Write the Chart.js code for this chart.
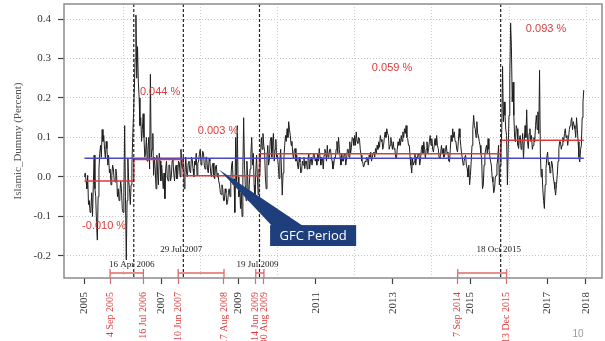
<!DOCTYPE html>
<html>
<head>
<meta charset="utf-8">
<script src="https://cdn.jsdelivr.net/npm/chart.js@4.4.1/dist/chart.umd.min.js"></script>
<style>
  html, body { margin: 0; padding: 0; background: #fff; }
  #chart { display: block; }
</style>
</head>
<body>
<canvas id="chart" width="605" height="341"></canvas>
<script>
// series, 48 readings per year
const y2005 = [0.00, 0.01, -0.01, -0.03, 0.004, -0.07, -0.06, -0.09, -0.08, -0.04, -0.10, -0.02, 0.055, -0.03, -0.05, -0.12, -0.16, -0.05, 0.02, 0.06, 0.08, 0.05, 0.12, 0.09, 0.105, 0.07, 0.046, 0.09, 0.072, 0.03, 0.055, 0.01, 0.02, -0.02, 0.004, 0.03, 0.02, -0.01, -0.013, 0.02, 0.004, -0.05, -0.03, -0.06, -0.046, -0.01, -0.03, -0.08];
const y2006 = [-0.09, -0.04, 0.13, -0.05, -0.21, -0.06, 0.046, -0.01, -0.03, -0.07, -0.02, 0.03, 0.10, 0.16, 0.22, 0.30, 0.41, 0.25, 0.33, 0.24, 0.20, 0.13, 0.15, 0.09, 0.12, 0.16, 0.10, 0.05, 0.06, 0.10, 0.04, 0.07, 0.10, 0.02, 0.26, 0.05, 0.07, 0.11, 0.004, 0.05, 0.02, -0.03, 0.055, 0.01, -0.02, 0.06, 0.04, -0.01];
const y2007 = [0.03, 0.0, -0.03, 0.01, -0.055, 0.02, 0.04, 0.0, -0.01, 0.03, 0.03, -0.01, 0.0, 0.04, 0.045, 0.01, -0.01, 0.02, 0.03, -0.005, 0.005, 0.04, 0.035, 0.0, 0.07, 0.03, 0.02, 0.05, -0.03, 0.01, 0.05, 0.01, 0.0, 0.035, 0.04, 0.015, 0.01, 0.05, 0.045, 0.02, 0.0, 0.04, 0.03, 0.06, 0.005, 0.035, 0.04, 0.06];
const y2008 = [0.07, 0.03, 0.04, 0.065, 0.06, 0.03, 0.02, 0.05, 0.05, 0.02, 0.01, 0.045, 0.04, 0.01, 0.0, 0.03, 0.035, 0.0, -0.005, 0.025, 0.03, 0.0, 0.01, -0.01, -0.02, -0.04, -0.045, -0.02, -0.03, -0.06, -0.06, -0.03, -0.04, -0.07, -0.065, -0.04, -0.03, -0.05, -0.01, 0.03, 0.04, -0.02, -0.005, -0.09, 0.10, -0.02, 0.13, 0.0];
const y2009 = [-0.05, -0.02, -0.08, -0.04, -0.10, 0.02, 0.15, 0.03, -0.02, -0.06, 0.04, 0.0, -0.06, -0.02, 0.02, 0.06, 0.10, 0.03, 0.06, -0.02, -0.06, 0.01, 0.055, 0.0, -0.045, 0.02, 0.004, 0.06, 0.10, 0.07, 0.11, 0.08, 0.065, 0.0, -0.03, 0.05, 0.08, 0.03, 0.046, 0.09, 0.10, 0.05, 0.08, 0.11, 0.04, 0.07, 0.095, 0.05];
const y2010 = [0.055, 0.03, -0.004, 0.04, 0.07, 0.02, -0.046, 0.01, 0.046, 0.08, 0.105, 0.09, 0.122, 0.10, 0.14, 0.12, 0.105, 0.08, 0.09, 0.06, 0.046, 0.07, 0.072, 0.04, 0.055, 0.03, 0.02, 0.05, 0.038, 0.01, 0.013, 0.04, 0.03, 0.05, 0.021, 0.04, 0.04, 0.02, 0.046, 0.06, 0.02, 0.04, 0.05, 0.03, 0.03, 0.06, 0.055, 0.04];
const y2011 = [0.046, 0.03, 0.06, 0.04, 0.072, 0.05, 0.03, 0.05, 0.046, 0.02, 0.055, 0.07, 0.063, 0.04, 0.08, 0.05, 0.055, 0.07, 0.07, 0.05, 0.04, 0.02, 0.03, 0.05, 0.046, 0.07, 0.09, 0.06, 0.10, 0.07, 0.05, 0.03, 0.06, 0.04, 0.04, 0.06, 0.055, 0.03, 0.046, 0.07, 0.07, 0.05, 0.089, 0.06, 0.075, 0.10, 0.097, 0.08];
const y2012 = [0.105, 0.08, 0.114, 0.09, 0.085, 0.10, 0.097, 0.07, 0.055, 0.04, 0.038, 0.025, 0.03, 0.04, 0.038, 0.05, 0.046, 0.03, 0.055, 0.05, 0.063, 0.04, 0.05, 0.06, 0.063, 0.05, 0.072, 0.06, 0.08, 0.07, 0.089, 0.075, 0.105, 0.09, 0.095, 0.07, 0.08, 0.10, 0.114, 0.10, 0.122, 0.11, 0.105, 0.07, 0.08, 0.10, 0.085, 0.07];
const y2013 = [0.089, 0.07, 0.072, 0.05, 0.046, 0.07, 0.089, 0.08, 0.097, 0.08, 0.105, 0.09, 0.114, 0.10, 0.122, 0.11, 0.13, 0.10, 0.097, 0.08, 0.08, 0.05, 0.03, 0.01, 0.046, 0.03, 0.038, 0.06, 0.03, 0.05, 0.046, 0.06, 0.055, 0.03, 0.046, 0.07, 0.08, 0.06, 0.089, 0.07, 0.046, 0.07, 0.089, 0.06, 0.072, 0.09, 0.105, 0.08];
const y2014 = [0.097, 0.07, 0.063, 0.08, 0.097, 0.08, 0.105, 0.08, 0.072, 0.05, 0.046, 0.06, 0.08, 0.06, 0.072, 0.05, 0.055, 0.07, 0.08, 0.06, 0.063, 0.04, 0.038, 0.07, 0.105, 0.09, 0.122, 0.10, 0.114, 0.09, 0.089, 0.07, 0.063, 0.09, 0.122, 0.10, 0.08, 0.06, 0.046, 0.03, 0.038, 0.05, 0.055, 0.03, 0.021, 0.0, 0.03, -0.02];
const y2015 = [0.004, 0.04, 0.08, 0.12, 0.156, 0.13, 0.122, 0.10, 0.14, 0.11, 0.105, 0.09, 0.08, 0.06, 0.046, -0.03, -0.021, 0.03, 0.055, 0.07, 0.08, 0.06, 0.097, 0.07, 0.055, 0.04, 0.03, 0.0, -0.013, -0.04, -0.03, 0.0, 0.004, 0.03, 0.046, 0.08, -0.02, 0.03, 0.06, 0.12, 0.28, 0.14, 0.19, 0.156, 0.12, 0.105, -0.02, 0.07];
const y2016 = [0.156, 0.25, 0.39, 0.33, 0.19, 0.24, 0.156, 0.10, 0.089, 0.13, 0.122, 0.08, 0.072, 0.10, 0.105, 0.07, 0.08, 0.11, 0.046, 0.09, 0.13, 0.10, 0.17, 0.09, 0.072, 0.11, 0.122, 0.09, 0.105, 0.07, 0.08, 0.10, 0.089, 0.13, 0.156, 0.12, 0.165, 0.11, 0.27, 0.06, 0.0, 0.02, -0.03, -0.06, -0.08, -0.02, 0.021, 0.05];
const y2017 = [0.063, 0.03, 0.038, 0.01, 0.021, 0.04, 0.03, 0.0, -0.013, -0.03, -0.046, -0.02, 0.004, 0.04, 0.072, 0.09, 0.089, 0.07, 0.08, 0.10, 0.089, 0.11, 0.122, 0.10, 0.105, 0.08, 0.097, 0.12, 0.13, 0.14, 0.15, 0.12, 0.14, 0.13, 0.122, 0.10, 0.15, 0.12, 0.089, 0.05, 0.038, 0.07, 0.08, 0.15, 0.19, 0.22];
const firstYear = 2005;
const perYear = 48;

// structural breaks and regime means
const breakDates = ['2006-04-16', '2007-07-29', '2009-07-19', '2015-10-18'];
const breakLabels = ['16 Apr 2006', '29 Jul 2007', '19 Jul 2009', '18 Oct 2015'];
const regimeMeans = [-0.010, 0.044, 0.003, 0.059, 0.093];
const regimeLabels = ['-0.010 %', '0.044 %', '0.003 %', '0.059 %', '0.093 %'];
const overallMean = 0.047;

// confidence intervals of the breaks
const ciStart = ['2005-09-04', '2007-06-10', '2009-06-14', '2014-09-07'];
const ciEnd = ['2006-07-16', '2008-08-17', '2009-08-30', '2015-12-13'];
const ciStartLabels = ['4 Sep 2005', '10 Jun 2007', '14 Jun 2009', '7 Sep 2014'];
const ciEndLabels = ['16 Jul 2006', '17 Aug 2008', '30 Aug 2009', '13 Dec 2015'];

// axis ticks
const yearTicks = [2005, 2007, 2009, 2011, 2013, 2015, 2017, 2018];
const gridYears = [2006, 2008, 2010, 2012, 2014, 2016, 2018];
const yTicks = [-0.2, -0.1, 0.0, 0.1, 0.2, 0.3, 0.4];

function dec(s) {
  const d = new Date(s + 'T00:00:00Z');
  const y = d.getUTCFullYear();
  const a = Date.UTC(y, 0, 1), b = Date.UTC(y + 1, 0, 1);
  return y + (d - a) / (b - a);
}

const yearly = [y2005, y2006, y2007, y2008, y2009, y2010, y2011, y2012, y2013, y2014, y2015, y2016, y2017];
const points = yearly.flatMap((vals, k) => vals.map((v, i) => ({ x: firstYear + k + (i + 0.5) / perYear, y: v })));
const xStart = points[0].x;
const xEnd = points[points.length - 1].x;

// stepped regime mean line
const bx = breakDates.map(dec);
const bounds = [xStart, ...bx, xEnd];
const meanSteps = [];
regimeMeans.forEach((m, i) => {
  meanSteps.push({ x: bounds[i], y: m });
  meanSteps.push({ x: bounds[i + 1], y: m });
});

const redTicks = [];
ciStart.forEach((d, i) => redTicks.push({ v: dec(d), label: ciStartLabels[i] }));
ciEnd.forEach((d, i) => redTicks.push({ v: dec(d), label: ciEndLabels[i] }));
const isRed = v => redTicks.some(t => Math.abs(t.v - v) < 1e-6);

const RED = '#dd3b3b';
const SERIF = '"Liberation Serif", "DejaVu Serif", serif';

const overlay = {
  id: 'overlay',
  beforeDatasetsDraw(chart) {
    const { ctx, chartArea: a, scales: { x } } = chart;
    ctx.save();
    ctx.strokeStyle = '#cfcfcf';
    ctx.lineWidth = 1;
    ctx.setLineDash([1, 2]);
    gridYears.forEach(g => {
      const px = Math.round(x.getPixelForValue(g)) + 0.5;
      ctx.beginPath(); ctx.moveTo(px, a.top); ctx.lineTo(px, a.bottom); ctx.stroke();
    });
    ctx.restore();
  },
  afterDatasetsDraw(chart) {
    const { ctx, chartArea: a, scales: { x, y } } = chart;
    ctx.save();
    // break lines
    ctx.strokeStyle = '#222';
    ctx.lineWidth = 1.2;
    ctx.setLineDash([3, 2]);
    bx.forEach(b => {
      const px = x.getPixelForValue(b);
      ctx.beginPath(); ctx.moveTo(px, a.top); ctx.lineTo(px, a.bottom); ctx.stroke();
    });
    ctx.setLineDash([]);
    // break date labels
    ctx.fillStyle = '#222';
    ctx.font = '9px ' + SERIF;
    ctx.textAlign = 'center';
    ctx.textBaseline = 'middle';
    bx.forEach((b, i) => {
      const ly = i % 2 === 0 ? -0.222 : -0.183;
      ctx.fillText(breakLabels[i], x.getPixelForValue(b) - 2, y.getPixelForValue(ly));
    });
    // confidence interval bars
    ctx.strokeStyle = '#e06a6a';
    ctx.lineWidth = 1.3;
    const cy = a.bottom - 5;
    ciStart.forEach((d, i) => {
      const x0 = x.getPixelForValue(dec(d)), x1 = x.getPixelForValue(dec(ciEnd[i]));
      ctx.beginPath();
      ctx.moveTo(x0, cy); ctx.lineTo(x1, cy);
      ctx.moveTo(x0, cy - 4); ctx.lineTo(x0, a.bottom);
      ctx.moveTo(x1, cy - 4); ctx.lineTo(x1, a.bottom);
      ctx.stroke();
    });
    // regime mean labels
    const labelAt = [[2005.52, -0.124], [2006.97, 0.215], [2008.47, 0.116], [2012.98, 0.276], [2016.97, 0.375]];
    ctx.fillStyle = RED;
    ctx.font = '11px "Liberation Sans", Arial, sans-serif';
    regimeLabels.forEach((t, i) => {
      ctx.fillText(t, x.getPixelForValue(labelAt[i][0]), y.getPixelForValue(labelAt[i][1]));
    });
    // GFC callout
    const tipX = x.getPixelForValue(2008.5), tipY = y.getPixelForValue(0.018);
    const bl = x.getPixelForValue(2009.82), br = x.getPixelForValue(2012.05);
    const bt = y.getPixelForValue(-0.122), bb = y.getPixelForValue(-0.175);
    ctx.fillStyle = '#1f3f7c';
    ctx.beginPath();
    ctx.moveTo(tipX, tipY);
    ctx.lineTo(bl + 2, bt + 1);
    ctx.lineTo(bl + 33, bt + 1);
    ctx.closePath();
    ctx.fill();
    ctx.fillRect(bl, bt, br - bl, bb - bt);
    ctx.fillStyle = '#fff';
    ctx.font = '13px "Open Sans", "Noto Sans", sans-serif';
    ctx.fillText('GFC Period', (bl + br) / 2, (bt + bb) / 2 + 1);
    // frame
    ctx.strokeStyle = '#8c8c8c';
    ctx.lineWidth = 1.5;
    ctx.strokeRect(a.left, a.top, a.right - a.left, a.bottom - a.top);
    // y axis title
    ctx.save();
    ctx.translate(18, (a.top + a.bottom) / 2);
    ctx.rotate(-Math.PI / 2);
    ctx.fillStyle = '#555';
    ctx.font = '11px ' + SERIF;
    ctx.fillText('Islamic_Dummy (Percent)', 0, 0);
    ctx.restore();
    // page number
    ctx.fillStyle = '#9a9a9a';
    ctx.font = '10px "Liberation Sans", sans-serif';
    ctx.fillText('10', 578, 334);
    ctx.restore();
  }
};

new Chart(document.getElementById('chart'), {
  type: 'line',
  data: {
    datasets: [
      { data: meanSteps, borderColor: RED, borderWidth: 1.5, pointRadius: 0, tension: 0 },
      { data: [{ x: xStart, y: overallMean }, { x: xEnd, y: overallMean }], borderColor: '#4848c8', borderWidth: 1.5, pointRadius: 0 },
      { data: points, borderColor: '#1e1e1e', borderWidth: 1, pointRadius: 0, tension: 0 }
    ]
  },
  options: {
    responsive: false,
    animation: false,
    layout: { padding: { top: 4, right: 3, left: 0, bottom: 0 } },
    plugins: { legend: { display: false }, tooltip: { enabled: false } },
    scales: {
      x: {
        type: 'linear',
        min: 2004.48,
        max: 2018.42,
        border: { display: false },
        grid: { drawOnChartArea: false, tickLength: 6, tickWidth: 1.2,
          tickColor: c => (c.tick && isRed(c.tick.value)) ? '#e06a6a' : '#444' },
        afterBuildTicks: s => {
          s.ticks = [...yearTicks, ...redTicks.map(t => t.v)].sort((p, q) => p - q).map(v => ({ value: v }));
        },
        afterFit: s => { s.height = 63; s.paddingLeft = 0; s.paddingRight = 0; },
        ticks: {
          autoSkip: false,
          minRotation: 90,
          maxRotation: 90,
          padding: 8,
          color: c => (c.tick && isRed(c.tick.value)) ? RED : '#333',
          font: c => (c.tick && isRed(c.tick.value)) ? { family: SERIF, size: 10 } : { family: SERIF, size: 11 },
          callback: v => {
            const r = redTicks.find(t => Math.abs(t.v - v) < 1e-6);
            return r ? r.label : String(v);
          }
        }
      },
      y: {
        min: -0.256,
        max: 0.438,
        border: { display: false, dash: [1, 2] },
        grid: { color: '#c4c4c4', lineWidth: 1, tickLength: 6, tickColor: '#444', tickBorderDash: [], tickWidth: 1.2 },
        afterBuildTicks: s => { s.ticks = yTicks.map(v => ({ value: v })); },
        afterFit: s => { s.width = 64; s.paddingTop = 0; s.paddingBottom = 0; },
        ticks: {
          padding: 7,
          color: '#333',
          font: { family: SERIF, size: 11 },
          callback: v => v.toFixed(1)
        }
      }
    }
  },
  plugins: [overlay]
});
</script>
</body>
</html>
